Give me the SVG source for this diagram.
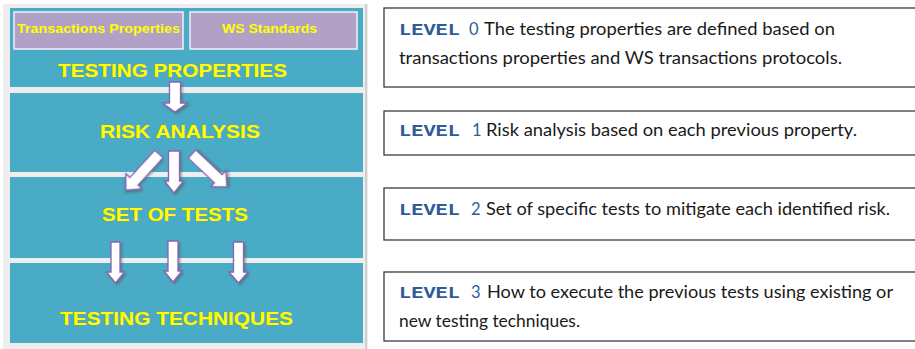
<svg xmlns="http://www.w3.org/2000/svg" width="915" height="349" viewBox="0 0 915 349">
<style>
.band{fill:#4aabc6}
.pbox{fill:#b2a1c7;stroke:#f4f0f8;stroke-width:1.5}
.ptxt{font-family:"Liberation Sans",Arial,sans-serif;font-weight:bold;font-size:13.5px;fill:#ffff00;text-anchor:middle}
.big{font-family:"Liberation Sans",Arial,sans-serif;font-weight:bold;font-size:18px;fill:#ffff00;text-anchor:middle;stroke:#9a9a30;stroke-width:0.4;paint-order:stroke}
.arr{fill:#ffffff;stroke:#8a64b4;stroke-width:1.3;stroke-linejoin:miter;filter:url(#sh)}
.lbox{fill:#ffffff;stroke:#3c3c3c;stroke-width:1.3}
.lv{font-family:"Liberation Mono","Courier New",monospace;font-weight:bold;font-size:17px;fill:#2f5c98}
.dg{font-family:Lato,"Liberation Sans",sans-serif;font-size:16.5px;fill:#2f5c98}
.bd{font-family:Lato,"Liberation Sans",sans-serif;font-size:16.5px;fill:#1a1a1a}
</style>
<defs>
<filter id="sh" x="-30%" y="-30%" width="160%" height="160%">
<feDropShadow dx="1.5" dy="1.8" stdDeviation="1" flood-color="#555555" flood-opacity="0.55"/>
</filter>
</defs>
<rect x="0" y="0" width="915" height="349" fill="#ffffff"/>
<rect x="3" y="4" width="365" height="345" fill="#eeeeee"/>
<line x1="366" y1="4" x2="366" y2="349" stroke="#c4c4c4" stroke-width="1.5"/>

<g id="level0-left">
<rect class="band" x="10" y="8" width="353" height="79"/>
<g id="transactions-properties">
<rect class="pbox" x="14" y="12" width="169" height="37"/>
<text class="ptxt" x="98.5" y="32.5" textLength="163" lengthAdjust="spacingAndGlyphs">Transactions Properties</text>
</g>
<g id="ws-standards">
<rect class="pbox" x="190" y="12" width="167" height="37"/>
<text class="ptxt" x="269.5" y="32.5" textLength="95" lengthAdjust="spacingAndGlyphs">WS Standards</text>
</g>
<text class="big" x="172.5" y="77" textLength="229" lengthAdjust="spacingAndGlyphs">TESTING PROPERTIES</text>
</g>

<g id="level1-left">
<rect class="band" x="10" y="93" width="353" height="79"/>
<text class="big" x="180" y="138" textLength="160" lengthAdjust="spacingAndGlyphs">RISK ANALYSIS</text>
</g>

<g id="level2-left">
<rect class="band" x="10" y="177" width="353" height="81"/>
<text class="big" x="175" y="221" textLength="146" lengthAdjust="spacingAndGlyphs">SET OF TESTS</text>
</g>

<g id="level3-left">
<rect class="band" x="10" y="263" width="353" height="80"/>
<text class="big" x="176.5" y="325" textLength="233" lengthAdjust="spacingAndGlyphs">TESTING TECHNIQUES</text>
</g>

<g id="connectors">
<polygon class="arr" points="169.5,82 180.5,82 180.5,103 187.5,103 175,112 162.5,103 169.5,103"/>
<polygon class="arr" transform="translate(159,154) rotate(42.5)" points="-5.5,0 5.5,0 5.5,37 11,37 0,49 -11,37 -5.5,37"/>
<polygon class="arr" points="168.5,151 179.5,151 179.5,181 183.5,181 174,193 164.5,181 168.5,181"/>
<polygon class="arr" transform="translate(192,154) rotate(-46.7)" points="-5.5,0 5.5,0 5.5,36 11,36 0,48 -11,36 -5.5,36"/>
<polygon class="arr" points="111,242 120,242 120,272 124.5,272 115.5,283 106.5,272 111,272"/>
<polygon class="arr" points="168,241 178,241 178,271 182,271 173,282 164,271 168,271"/>
<polygon class="arr" points="233.5,242 243.5,242 243.5,272 248,272 238.5,283 229,272 233.5,272"/>
</g>

<g id="level0-desc">
<rect class="lbox" x="384" y="8" width="540" height="79"/>
<text class="lv" x="399" y="35" textLength="61" lengthAdjust="spacingAndGlyphs">LEVEL</text>
<text class="dg" x="469" y="35">0</text>
<text class="bd" x="484" y="35" textLength="351" lengthAdjust="spacingAndGlyphs">The testing properties are defined based on</text>
<text class="bd" x="399" y="64" textLength="443" lengthAdjust="spacingAndGlyphs">transactions properties and WS transactions protocols.</text>
</g>

<g id="level1-desc">
<rect class="lbox" x="384" y="111" width="540" height="44"/>
<text class="lv" x="399" y="136" textLength="61" lengthAdjust="spacingAndGlyphs">LEVEL</text>
<text class="dg" x="472" y="136">1</text>
<text class="bd" x="486" y="136" textLength="371" lengthAdjust="spacingAndGlyphs">Risk analysis based on each previous property.</text>
</g>

<g id="level2-desc">
<rect class="lbox" x="384" y="188" width="540" height="52"/>
<text class="lv" x="399" y="215" textLength="61" lengthAdjust="spacingAndGlyphs">LEVEL</text>
<text class="dg" x="471" y="215">2</text>
<text class="bd" x="486" y="215" textLength="404" lengthAdjust="spacingAndGlyphs">Set of specific tests to mitigate each identified risk.</text>
</g>

<g id="level3-desc">
<rect class="lbox" x="384" y="272" width="540" height="69"/>
<text class="lv" x="399" y="298" textLength="61" lengthAdjust="spacingAndGlyphs">LEVEL</text>
<text class="dg" x="471" y="298">3</text>
<text class="bd" x="487" y="298" textLength="406" lengthAdjust="spacingAndGlyphs">How to execute the previous tests using existing or</text>
<text class="bd" x="399" y="327" textLength="181" lengthAdjust="spacingAndGlyphs">new testing techniques.</text>
</g>
</svg>
